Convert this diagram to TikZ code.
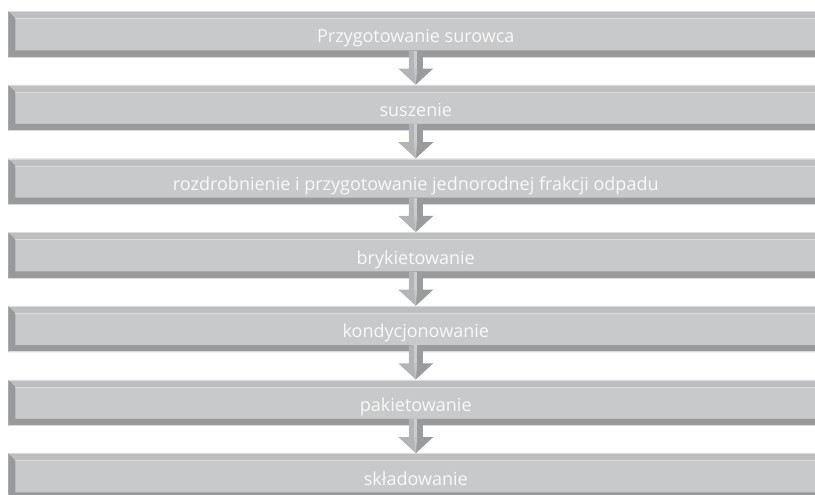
\documentclass[tikz,border=0pt]{standalone}
\usepackage{fontspec}
\setmainfont{Open Sans}
\usetikzlibrary{calc}

\definecolor{faceC}{HTML}{C8C9CB}
\definecolor{topC}{HTML}{BDBEC0}
\definecolor{sideC}{HTML}{98999B}
\definecolor{lineC}{HTML}{DADBDD}
\definecolor{arrL}{HTML}{B3B4B6}
\definecolor{arrR}{HTML}{9A9B9D}
\definecolor{arrHi}{HTML}{CBCCCE}
\definecolor{txtC}{HTML}{F9F9F9}

\tikzset{
  stagebox/.style={
    anchor=north west, inner sep=0pt,
    minimum width=611.25pt, minimum height=34.5pt,
    text height=13pt, text depth=0pt,
    fill=faceC, text=txtC,
    font=\fontsize{13.5pt}{15pt}\selectfont,
    path picture={
      \coordinate (NW) at (path picture bounding box.north west);
      \coordinate (NE) at (path picture bounding box.north east);
      \coordinate (SW) at (path picture bounding box.south west);
      \coordinate (SE) at (path picture bounding box.south east);
      % top bevel
      \fill[topC] (NW) -- (NE) -- ([yshift=-5.25pt]NE) -- ([shift={(5.25pt,-5.25pt)}]NW) -- cycle;
      % left bevel
      \fill[sideC] (NW) -- ([shift={(5.25pt,-5.25pt)}]NW) -- ([shift={(5.25pt,5.25pt)}]SW) -- (SW) -- cycle;
      % bottom bevel
      \fill[sideC] (SW) -- ([shift={(5.25pt,5.25pt)}]SW) -- ([yshift=5.25pt]SE) -- (SE) -- cycle;
      % light edges
      \draw[lineC, line width=0.6pt] ([yshift=-0.3pt]NW) -- ([yshift=-0.3pt]NE);
      \draw[lineC, line width=0.6pt] ([shift={(5.25pt,-5.55pt)}]NW) -- ([yshift=-5.55pt]NE);
      \draw[lineC, line width=0.5pt] ([yshift=0.25pt]SW) -- ([yshift=0.25pt]SE);
    }
  }
}

% arrow between two stages: shaft from above the lower edge of #1, head ending on top of #2
\newcommand{\stagearrow}[2]{%
  \fill[arrL] ([shift={(-7,-7)}]#1.south) -- ([shift={(0,-7)}]#1.south) -- (#2.north)
     -- ([shift={(-17.5,11)}]#1.south) -- ([shift={(-7,11)}]#1.south) -- cycle;
  \fill[arrR] ([shift={(0,-7)}]#1.south) -- ([shift={(7,-7)}]#1.south) -- ([shift={(7,11)}]#1.south)
     -- ([shift={(17.5,11)}]#1.south) -- (#2.north) -- cycle;
  \fill[arrHi] ([shift={(-2,-7)}]#1.south) -- ([shift={(1.5,-7)}]#1.south) -- ([shift={(1.5,11)}]#1.south)
     -- ([shift={(-2,11)}]#1.south) -- cycle;
  \fill[arrHi!70!arrL] ([shift={(-2,11)}]#1.south) -- ([shift={(1.5,11)}]#1.south) -- (#2.north) -- cycle;
}

\begin{document}
\begin{tikzpicture}[x=0.75pt,y=-0.75pt]
  \useasboundingbox (0,0) rectangle (815,495);

  \node[stagebox] (s1) at (8,11.0)  {Przygotowanie surowca};
  \node[stagebox] (s2) at (8,84.7)  {suszenie};
  \node[stagebox] (s3) at (8,158.4) {rozdrobnienie i przygotowanie jednorodnej frakcji odpadu};
  \node[stagebox] (s4) at (8,232.1) {brykietowanie};
  \node[stagebox] (s5) at (8,305.8) {kondycjonowanie};
  \node[stagebox] (s6) at (8,379.5) {pakietowanie};
  \node[stagebox] (s7) at (8,453.2) {składowanie};

  \stagearrow{s1}{s2}
  \stagearrow{s2}{s3}
  \stagearrow{s3}{s4}
  \stagearrow{s4}{s5}
  \stagearrow{s5}{s6}
  \stagearrow{s6}{s7}
\end{tikzpicture}
\end{document}
